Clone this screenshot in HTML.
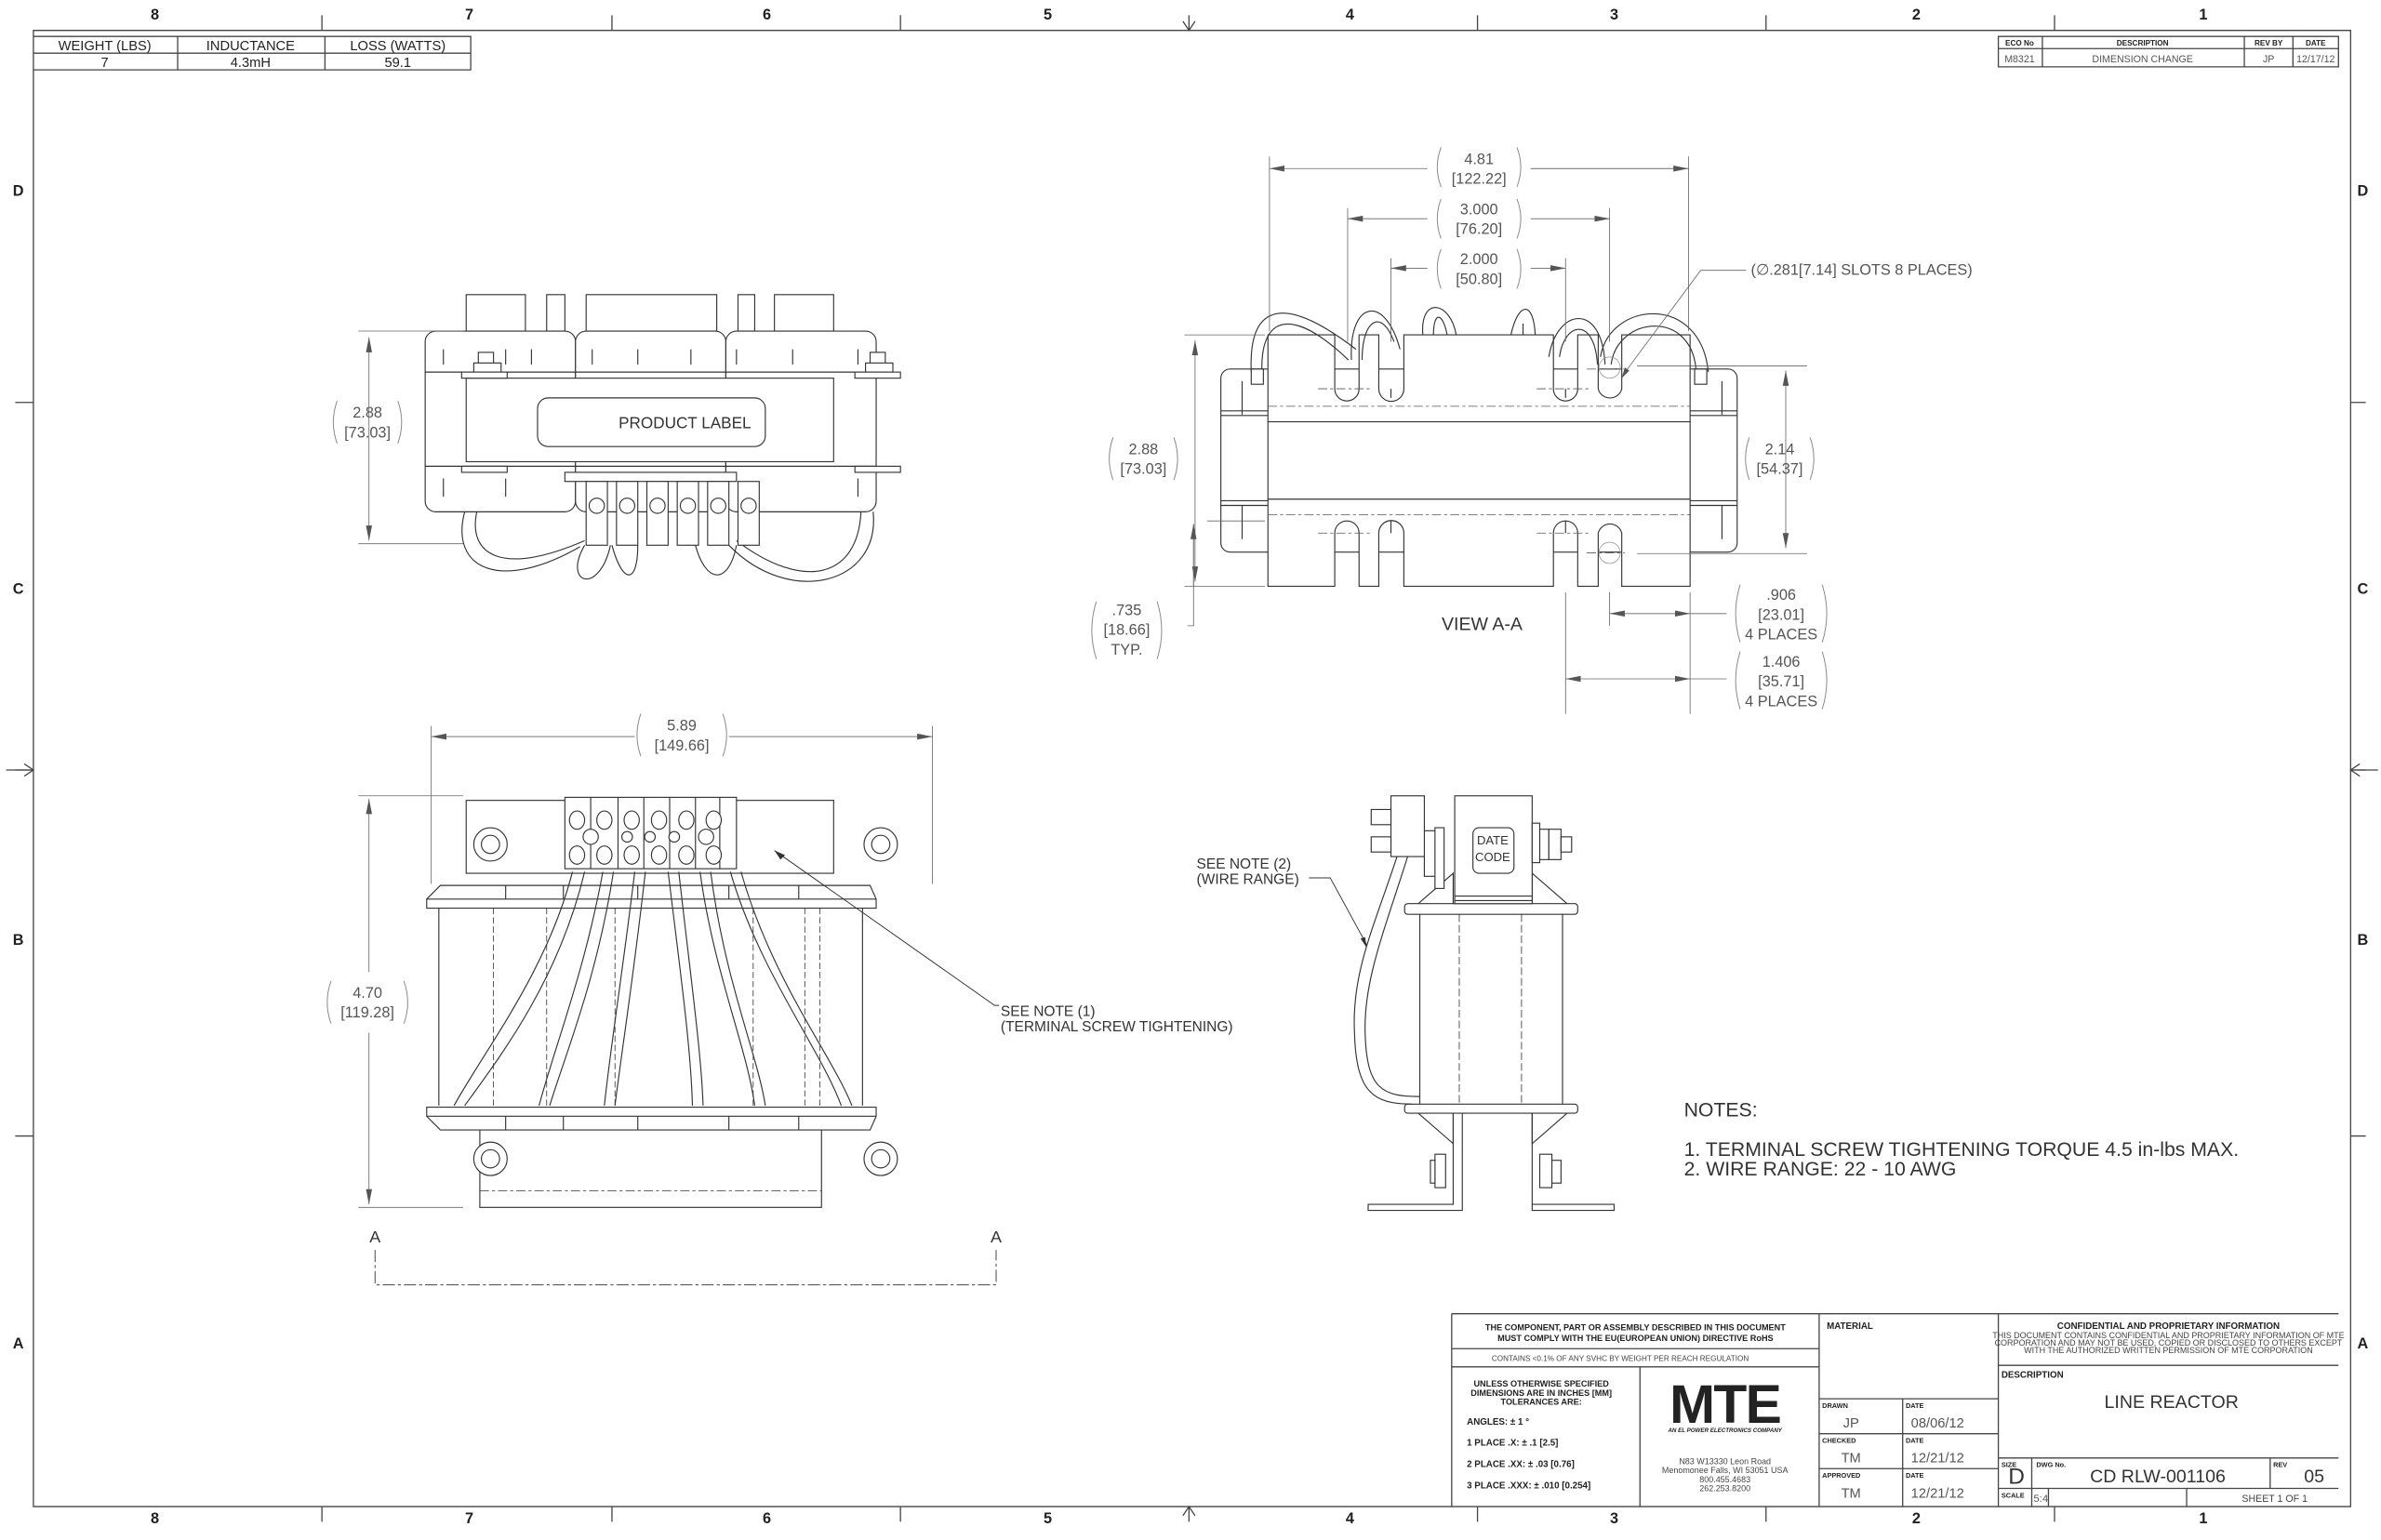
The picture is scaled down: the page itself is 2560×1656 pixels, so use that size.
<!DOCTYPE html>
<html><head><meta charset="utf-8"><style>
html,body{margin:0;padding:0;background:#fff}
svg{display:block}
text{font-family:"Liberation Sans",sans-serif}
</style></head><body>
<svg width="2560" height="1656" viewBox="0 0 1568 1014" preserveAspectRatio="none" xmlns="http://www.w3.org/2000/svg">
<defs>
<marker id="ar" viewBox="0 0 10 4" refX="10" refY="2" markerWidth="10" markerHeight="4" orient="auto-start-reverse" markerUnits="userSpaceOnUse"><path d="M0,0 L10,2 L0,4z" fill="#555"/></marker>
</defs>
<rect width="1568" height="1014" fill="#fff"/>
<g fill="none" stroke="#444" stroke-width="0.8">
<path d="M22,20 H1548 V992 H22 Z"/>
<path d="M212,10V20 M403,10V20 M593,10V20 M973,10V20 M1163,10V20 M1353,10V20 M212,992V1002 M403,992V1002 M593,992V1002 M973,992V1002 M1163,992V1002 M1353,992V1002"/>
<path d="M10,265H22 M10,507H22 M10,748H22 M1548,265H1558 M1548,507H1558 M1548,748H1558"/>
<path d="M783,10V20 M779,14L783,20L787,14 M783,992V1002 M779,998L783,992L787,998 M4,507H22 M16,503L22,507L16,511 M1548,507H1566 M1554,503L1548,507L1554,511"/>
<path d="M22,24H310V46H22 M22,35H310 M117,24V46 M214,24V46"/>
<path d="M1316,24H1540V44H1316Z M1316,32H1540 M1345,24V44 M1478,24V44 M1510,24V44"/>
<path d="M956,865H1540 M956,865V992 M956,888H1198 M956,900H1198 M1198,865V992 M1080,900V992 M1316,865V992 M1316,899H1540 M1198,921H1316 M1253,921V992 M1198,944H1316 M1198,967H1316 M1316,960H1540 M1338,960V992 M1316,980H1540 M1349,980V992 M1495,960V980 M1440,980V992"/>
</g>
<g fill="#222" font-size="10" text-anchor="middle">
<text x="102" y="13" font-weight="bold">8</text><text x="309" y="13" font-weight="bold">7</text><text x="505" y="13" font-weight="bold">6</text><text x="690" y="13" font-weight="bold">5</text><text x="889" y="13" font-weight="bold">4</text><text x="1063" y="13" font-weight="bold">3</text><text x="1262" y="13" font-weight="bold">2</text><text x="1451" y="13" font-weight="bold">1</text>
<text x="102" y="1003" font-weight="bold">8</text><text x="309" y="1003" font-weight="bold">7</text><text x="505" y="1003" font-weight="bold">6</text><text x="690" y="1003" font-weight="bold">5</text><text x="889" y="1003" font-weight="bold">4</text><text x="1063" y="1003" font-weight="bold">3</text><text x="1262" y="1003" font-weight="bold">2</text><text x="1451" y="1003" font-weight="bold">1</text>
<text x="12" y="129" font-weight="bold">D</text><text x="12" y="391" font-weight="bold">C</text><text x="12" y="622" font-weight="bold">B</text><text x="12" y="888" font-weight="bold">A</text>
<text x="1556" y="129" font-weight="bold">D</text><text x="1556" y="391" font-weight="bold">C</text><text x="1556" y="622" font-weight="bold">B</text><text x="1556" y="888" font-weight="bold">A</text>
<text x="69" y="33" font-size="9">WEIGHT (LBS)</text><text x="165" y="33" font-size="9">INDUCTANCE</text><text x="262" y="33" font-size="9">LOSS (WATTS)</text>
<text x="69" y="44" font-size="9">7</text><text x="165" y="44" font-size="9">4.3mH</text><text x="262" y="44" font-size="9">59.1</text>
<g font-size="5" font-weight="bold"><text x="1330" y="30">ECO No</text><text x="1411" y="30">DESCRIPTION</text><text x="1494" y="30">REV BY</text><text x="1525" y="30">DATE</text></g>
<g font-size="6.5" fill="#555"><text x="1330" y="41">M8321</text><text x="1411" y="41">DIMENSION CHANGE</text><text x="1494" y="41">JP</text><text x="1525" y="41">12/17/12</text></g>
<g font-size="5.6" font-weight="bold"><text x="1077" y="876">THE COMPONENT, PART OR ASSEMBLY DESCRIBED IN THIS DOCUMENT</text><text x="1077" y="883">MUST COMPLY WITH THE EU(EUROPEAN UNION) DIRECTIVE RoHS</text>
<text x="1015" y="913">UNLESS OTHERWISE SPECIFIED</text><text x="1015" y="919">DIMENSIONS ARE IN INCHES [MM]</text><text x="1015" y="925">TOLERANCES ARE:</text>
<text x="1428" y="875" font-size="6">CONFIDENTIAL AND PROPRIETARY INFORMATION</text></g>
<text x="1067" y="896" font-size="5" fill="#444">CONTAINS &lt;0.1% OF ANY SVHC BY WEIGHT PER REACH REGULATION</text>
<g font-size="6" font-weight="bold" text-anchor="start"><text x="966" y="938">ANGLES: ± 1 °</text><text x="966" y="952">1 PLACE .X: ± .1 [2.5]</text><text x="966" y="966">2 PLACE .XX: ± .03 [0.76]</text><text x="966" y="980">3 PLACE .XXX: ± .010 [0.254]</text>
<text x="1203" y="875">MATERIAL</text><text x="1318" y="907">DESCRIPTION</text></g>
<text x="1136" y="937" font-size="36" font-weight="bold" letter-spacing="-1">MTE</text>
<text x="1136" y="943" font-size="3.8" font-style="italic" font-weight="bold">AN EL POWER ELECTRONICS COMPANY</text>
<g font-size="5.5" fill="#444"><text x="1136" y="964">N83 W13330 Leon Road</text><text x="1136" y="970">Menomonee Falls, WI 53051 USA</text><text x="1136" y="976">800.455.4683</text><text x="1136" y="982">262.253.8200</text>
<text x="1428" y="881">THIS DOCUMENT CONTAINS CONFIDENTIAL AND PROPRIETARY INFORMATION OF MTE</text><text x="1428" y="886">CORPORATION AND MAY NOT BE USED, COPIED OR DISCLOSED TO OTHERS EXCEPT</text><text x="1428" y="891">WITH THE AUTHORIZED WRITTEN PERMISSION OF MTE CORPORATION</text></g>
<g font-size="4.5" font-weight="bold" text-anchor="start"><text x="1200" y="927">DRAWN</text><text x="1255" y="927">DATE</text><text x="1200" y="950">CHECKED</text><text x="1255" y="950">DATE</text><text x="1200" y="973">APPROVED</text><text x="1255" y="973">DATE</text><text x="1318" y="966">SIZE</text><text x="1341" y="966">DWG No.</text><text x="1497" y="966">REV</text><text x="1318" y="986">SCALE</text></g>
<g font-size="9" fill="#555"><text x="1219" y="940">JP</text><text x="1276" y="940">08/06/12</text><text x="1219" y="963">TM</text><text x="1276" y="963">12/21/12</text><text x="1219" y="986">TM</text><text x="1276" y="986">12/21/12</text></g>
<text x="1430" y="927" font-size="12" fill="#333">LINE REACTOR</text>
<text x="1328" y="977" font-size="15" fill="#333">D</text>
<text x="1421" y="976" font-size="12" fill="#333">CD RLW-001106</text>
<text x="1524" y="976" font-size="12" fill="#333">05</text>
<text x="1344" y="989" font-size="7" fill="#555">5:4</text>
<text x="1498" y="989" font-size="6.5" fill="#444">SHEET 1  OF 1</text>
</g>

<!-- ====== TOP VIEW ====== -->
<g fill="#fff" stroke="#333" stroke-width="0.7">
<rect x="307" y="194" width="39" height="24"/><rect x="360" y="194" width="12" height="24"/><rect x="386" y="194" width="86" height="24"/><rect x="486" y="194" width="11" height="24"/><rect x="510" y="194" width="39" height="24"/>
<path d="M306,337 C296,375 330,390 382,360 M314,337 C308,365 330,380 385,356 M385,359 C370,385 395,392 402,359 M403,359 C410,385 420,385 420,359 M458,359 C465,385 480,385 485,359 M485,356 C530,390 565,380 567,337 M480,359 C520,400 580,385 575,337" fill="none"/>
<rect x="280" y="218" width="99" height="119" rx="7"/><rect x="379" y="218" width="99" height="119" rx="7"/><rect x="478" y="218" width="99" height="119" rx="7"/>
<path d="M280,245H577 M280,307H577 M292,230v10 M333,230v10 M350,230v10 M390,230v10 M420,230v10 M455,230v10 M485,230v10 M522,230v10 M565,230v10 M292,315v12 M333,315v12 M565,315v12" fill="none"/>
<rect x="307" y="249" width="242" height="55"/>
<rect x="354" y="262" width="150" height="32" rx="7"/>
<rect x="315" y="232" width="10" height="13"/><rect x="312" y="239" width="18" height="6"/><rect x="304" y="245" width="30" height="4"/>
<rect x="573" y="232" width="10" height="13"/><rect x="570" y="239" width="18" height="6"/><rect x="563" y="245" width="30" height="4"/>
<rect x="304" y="307" width="30" height="4"/><rect x="563" y="307" width="30" height="4"/>
<rect x="372" y="311" width="113" height="6"/>
<g><rect x="386" y="317" width="14" height="42"/><rect x="406" y="317" width="14" height="42"/><rect x="426" y="317" width="14" height="42"/><rect x="446" y="317" width="14" height="42"/><rect x="466" y="317" width="14" height="42"/><rect x="486" y="317" width="14" height="42"/></g>
<g><circle cx="393" cy="333" r="5"/><circle cx="413" cy="333" r="5"/><circle cx="433" cy="333" r="5"/><circle cx="453" cy="333" r="5"/><circle cx="473" cy="333" r="5"/><circle cx="493" cy="333" r="5"/></g>
</g>
<text x="451" y="282" font-size="10.5" text-anchor="middle" fill="#333">PRODUCT LABEL</text>

<!-- ====== FRONT VIEW ====== -->
<g fill="#fff" stroke="#333" stroke-width="0.7">
<rect x="307" y="527" width="242" height="48"/>
<rect x="316" y="743" width="225" height="52"/>
<path d="M289,598V728 M568,598V728" />
<path d="M360,598V728 M405,598V728 M496,598V728 M540,598V728" stroke-dasharray="4,2" stroke-width="0.5"/>
<path d="M325,598V728 M530,598V728" stroke-dasharray="4,2" stroke-width="0.5"/>
<path d="M281,592 L290,583 H573 L577,592 V598 H281 Z"/>
<path d="M281,729 V735 L290,744 H573 L577,735 V729 Z"/>
<path d="M281,592H577 M281,735H577 M333,583v9 M371,583v9 M420,583v9 M480,583v9 M526,583v9 M333,735v9 M371,735v9 M420,735v9 M480,735v9 M526,735v9" fill="none"/>
<path d="M316,784H541" stroke-dasharray="6,2,2,2" fill="none" stroke-width="0.5"/>
<g stroke-width="0.7" fill="none">
<path d="M377,574 C360,640 320,690 299,728 M385,574 C368,645 330,695 306,728"/>
<path d="M397,574 C385,640 365,690 355,728 M404,574 C393,645 372,695 362,728"/>
<path d="M418,574 C410,640 402,690 398,728 M425,574 C417,645 409,695 405,728"/>
<path d="M440,574 C448,640 455,690 456,728 M447,574 C455,645 462,695 463,728"/>
<path d="M461,574 C470,640 492,690 497,728 M468,574 C477,645 499,695 504,728"/>
<path d="M481,574 C500,640 540,690 554,728 M488,574 C508,645 548,695 561,728"/>
</g>
<rect x="372" y="525" width="113" height="47"/>
<path d="M389,525V572 M407,525V572 M424,525V572 M441,525V572 M458,525V572 M474,525V572" fill="none"/>
<g><ellipse cx="380" cy="540" rx="5" ry="6"/><ellipse cx="398" cy="540" rx="5" ry="6"/><ellipse cx="416" cy="540" rx="5" ry="6"/><ellipse cx="434" cy="540" rx="5" ry="6"/><ellipse cx="452" cy="540" rx="5" ry="6"/><ellipse cx="470" cy="540" rx="5" ry="6"/>
<ellipse cx="380" cy="563" rx="5" ry="6"/><ellipse cx="398" cy="563" rx="5" ry="6"/><ellipse cx="416" cy="563" rx="5" ry="6"/><ellipse cx="434" cy="563" rx="5" ry="6"/><ellipse cx="452" cy="563" rx="5" ry="6"/><ellipse cx="470" cy="563" rx="5" ry="6"/>
<circle cx="389" cy="551" r="5"/><circle cx="465" cy="551" r="5"/><circle cx="413" cy="551" r="3.5"/><circle cx="428" cy="551" r="3.5"/><circle cx="444" cy="551" r="3.5"/></g>
<circle cx="323" cy="556" r="11"/><circle cx="323" cy="556" r="6"/><circle cx="580" cy="556" r="11"/><circle cx="580" cy="556" r="6"/>
<circle cx="323" cy="763" r="11"/><circle cx="323" cy="763" r="6"/><circle cx="580" cy="763" r="11"/><circle cx="580" cy="763" r="6"/>
</g>
<path d="M510,560 L655,662 H658" fill="none" stroke="#333" stroke-width="0.6"/>
<path d="M510,560 l7,3 l-3,3z" fill="#333"/>
<g font-size="9.5" fill="#333"><text x="659" y="669">SEE NOTE (1)</text><text x="659" y="679">(TERMINAL SCREW TIGHTENING)</text></g>

<g stroke="#444" stroke-width="0.6" fill="none">
<path d="M247,823V846H656V823" stroke-dasharray="8,2,2,2"/>
</g>
<g font-size="11" fill="#333" text-anchor="middle"><text x="247" y="818">A</text><text x="656" y="818">A</text></g>

<!-- ====== VIEW A-A ====== -->
<g fill="#fff" stroke="#333" stroke-width="0.7">
<rect x="804" y="243" width="340" height="120.5" rx="6"/>
<path d="M835,220.5 H879 V256 A8,8 0 0 0 895,256 V220.5 H908 V256 A8,8 0 0 0 924.5,256 V220.5 H1023 V256 A8,8 0 0 0 1039,256 V220.5 H1052.5 V256 A8,8 0 0 0 1068,256 V220.5 H1113 V277.7 H835 Z"/>
<rect x="835" y="277.7" width="278" height="51"/>
<path d="M835,328.7 H1113 V386 H1068 V351 A8,8 0 0 0 1052.5,351 V386 H1039 V351 A8,8 0 0 0 1023,351 V386 H924.5 V351 A8,8 0 0 0 908,351 V386 H895 V351 A8,8 0 0 0 879,351 V386 H835 Z"/>
<path d="M804,270.5H835 M804,273.6H835 M1113,270.5H1144 M1113,273.6H1144 M804,329.7H835 M804,332.8H835 M1113,329.7H1144 M1113,332.8H1144 M818,251v22 M1134,251v22 M818,333v22 M1134,333v22 M916,256v6 M1031,256v6 M916,343v8 M1031,343v8" fill="none"/>
<path d="M824,245 C822,200 845,193 893,230 M831,245 C830,208 850,201 888,237" fill="none"/>
<path d="M890,237 C888,198 912,193 922,230 M897,237 C897,210 910,203 918,225" fill="none"/>
<path d="M937,220.5 C935,195 955,198 959,220.5 M944,220.5 C944,205 950,205 953,220.5" fill="none"/>
<path d="M995,220.5 C1000,198 1010,198 1011,220.5 M1003,213 V220.5" fill="none"/>
<path d="M1020,235 C1025,203 1055,198 1057,240 M1027,235 C1030,212 1050,208 1052,240" fill="none"/>
<path d="M1054,235 C1060,198 1120,193 1125,245 M1061,240 C1065,208 1115,203 1117,245" fill="none"/>
<rect x="824" y="243" width="8" height="10"/><rect x="1116" y="243" width="8" height="10"/>
</g>
<g stroke="#555" stroke-width="0.5" fill="none" stroke-dasharray="6,2,2,2">
<path d="M835,267.5H1113 M835,339H1113 M868,256H903 M1012,256H1047 M868,351H903 M1012,351H1047 M1045,243H1070 M1045,364H1070"/>
</g>
<g stroke="#999" stroke-width="0.5" fill="none"><circle cx="1060" cy="242" r="7"/><circle cx="1060" cy="364" r="7"/></g>
<!-- dims A-A -->
<g stroke="#666" stroke-width="0.5" fill="none">
<path d="M836,218V103 M1112,218V103 M887.5,225V137 M1060,225V137 M916,225V170 M1031,225V170"/>
<path d="M836,111H940 M1008,111H1112" marker-start="url(#ar)"/>
<path d="M1008,111H1112" marker-end="url(#ar)"/>
<path d="M887.5,144H940" marker-start="url(#ar)"/><path d="M1008,144H1060" marker-end="url(#ar)"/>
<path d="M940,176.6H916" marker-end="url(#ar)"/><path d="M1008,176.6H1031" marker-end="url(#ar)"/>
<path d="M833,220.5H780 M833,386H780"/>
<path d="M787,224V383" marker-start="url(#ar)" marker-end="url(#ar)"/>
<path d="M1078,241H1190 M1078,364.5H1190"/>
<path d="M1176,244V361" marker-start="url(#ar)" marker-end="url(#ar)"/>
<path d="M833,343H795 M786,345V412 H782"/>
<path d="M786,345V386" marker-start="url(#ar)"/>
<path d="M1113,390V470 M1060,390V412 M1031,390V470"/>
<path d="M1060,404H1113" marker-start="url(#ar)" marker-end="url(#ar)"/><path d="M1113,404H1137"/>
<path d="M1031,447H1113" marker-start="url(#ar)" marker-end="url(#ar)"/><path d="M1113,447H1137"/>
<path d="M1068,248 L1120,178 H1150"/>
</g>
<path d="M1068,249 l2,-7 l3,2z" fill="#555"/>
<g font-size="10" fill="#555" text-anchor="middle">
<text x="974" y="108">4.81</text><text x="974" y="121">[122.22]</text>
<text x="974" y="141">3.000</text><text x="974" y="154">[76.20]</text>
<text x="974" y="174">2.000</text><text x="974" y="187">[50.80]</text>
<text x="753" y="299">2.88</text><text x="753" y="312">[73.03]</text>
<text x="1172" y="299">2.14</text><text x="1172" y="312">[54.37]</text>
<text x="742" y="405">.735</text><text x="742" y="418">[18.66]</text><text x="742" y="431">TYP.</text>
<text x="1173" y="395">.906</text><text x="1173" y="408">[23.01]</text><text x="1173" y="421">4 PLACES</text>
<text x="1173" y="439">1.406</text><text x="1173" y="452">[35.71]</text><text x="1173" y="465">4 PLACES</text>
<text x="1226" y="181" text-anchor="middle">(∅.281[7.14] SLOTS 8 PLACES)</text>
<text x="242" y="275">2.88</text><text x="242" y="288">[73.03]</text>
<text x="449" y="481">5.89</text><text x="449" y="494">[149.66]</text>
<text x="242" y="657">4.70</text><text x="242" y="670">[119.28]</text>
</g>
<text x="976" y="415" font-size="12" fill="#333" text-anchor="middle">VIEW A-A</text>
<g stroke="#888" stroke-width="0.6" fill="none">
<path d="M949,97 q-5,13 0,26 M999,97 q5,13 0,26 M949,131 q-5,13 0,26 M999,131 q5,13 0,26 M949,164 q-5,13 0,26 M999,164 q5,13 0,26"/>
<path d="M733,288 q-5,14 0,28 M773,288 q5,14 0,28 M1152,288 q-5,14 0,28 M1192,288 q5,14 0,28"/>
<path d="M722,396 q-6,19 0,38 M762,396 q6,19 0,38 M1146,385 q-6,19 0,38 M1200,385 q6,19 0,38 M1146,429 q-6,19 0,38 M1200,429 q6,19 0,38"/>
<path d="M222,264 q-5,14 0,28 M262,264 q5,14 0,28 M422,470 q-5,14 0,28 M476,470 q5,14 0,28 M218,646 q-5,14 0,28 M266,646 q5,14 0,28"/>
</g>
<g stroke="#666" stroke-width="0.5" fill="none">
<path d="M305,218H236 M305,358H236"/>
<path d="M243,222V356" marker-start="url(#ar)" marker-end="url(#ar)"/>
<path d="M284,582V478 M614,582V478"/>
<path d="M284,485H418" marker-start="url(#ar)"/><path d="M480,485H614" marker-end="url(#ar)"/>
<path d="M305,524H236 M305,795H236"/>
<path d="M243,526V640" marker-start="url(#ar)"/><path d="M243,680V793" marker-end="url(#ar)"/>
</g>

<!-- ====== SIDE VIEW ====== -->
<g fill="#fff" stroke="#333" stroke-width="0.7">
<path d="M957,728 V793 H901 V797 H963 V728 M1009,728 V793 H1063 V797 H1009 V728"/>
<path d="M934,595 L957,575 V595 M1032,595 L1009,575 V595 M934,733 L957,753 V733 M1032,733 L1009,753 V733" fill="none"/>
<rect x="925" y="595" width="114" height="7" rx="2"/>
<rect x="925" y="727" width="114" height="6" rx="2"/>
<path d="M935,602V727 M1029,602V727"/>
<path d="M961,602V727 M1002,602V727" stroke-dasharray="5,2" stroke-width="0.5" fill="none"/>
<rect x="958" y="524" width="51" height="71"/>
<rect x="970" y="545" width="27" height="30" rx="4"/>
<path d="M958,590H1009 M958,593H1009"/>
<rect x="938" y="547" width="8" height="30"/><rect x="945" y="545" width="6" height="40"/>
<rect x="916" y="524" width="22" height="40"/><rect x="903" y="533" width="13" height="10"/><rect x="903" y="551" width="13" height="10"/>
<rect x="1009" y="542" width="5" height="26"/><rect x="1014" y="546" width="6" height="20"/><rect x="1020" y="546" width="8" height="20"/><rect x="1028" y="551" width="7" height="10"/>
<rect x="945" y="760" width="7" height="22"/><rect x="942" y="764" width="3" height="15"/><rect x="1014" y="760" width="8" height="22"/><rect x="1022" y="764" width="6" height="15"/>
<path d="M920,564 C905,610 890,640 892,680 C893,720 905,727 930,727 M927,564 C912,612 898,645 899,680 C900,717 910,722 935,722" fill="none"/>
</g>
<g font-size="8" fill="#333" text-anchor="middle"><text x="983" y="556">DATE</text><text x="983" y="567">CODE</text></g>
<path d="M862,578 H876 L900,622" fill="none" stroke="#333" stroke-width="0.6"/>
<path d="M900,624 l-4,-6 l3,-1z" fill="#333"/>
<g font-size="9.5" fill="#333"><text x="788" y="572">SEE NOTE (2)</text><text x="788" y="582">(WIRE RANGE)</text></g>

<g font-size="13" fill="#333"><text x="1109" y="735">NOTES:</text>
<text x="1109" y="761">1.  TERMINAL SCREW TIGHTENING TORQUE 4.5 in-lbs MAX.</text>
<text x="1109" y="774">2.  WIRE RANGE: 22 - 10 AWG</text></g>
</svg>
</body></html>
